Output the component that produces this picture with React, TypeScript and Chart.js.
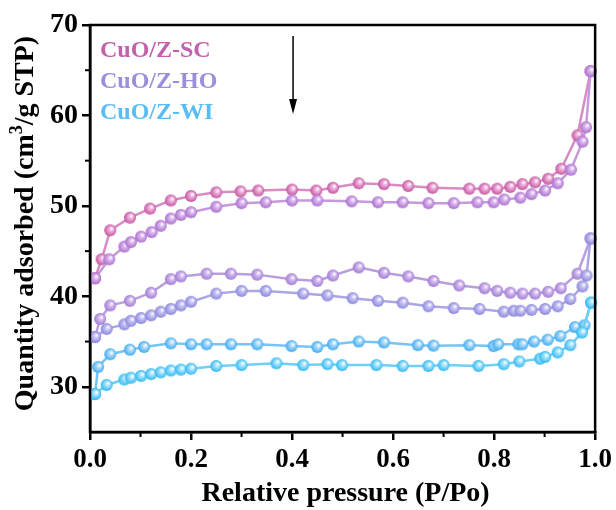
import React, { useEffect, useRef } from "react";
import { Chart, registerables } from "chart.js";

Chart.register(...registerables);

// ---------- data ----------
const scDesX = [0.010, 0.023, 0.040, 0.079, 0.119, 0.160, 0.200, 0.250, 0.298, 0.333, 0.400, 0.448, 0.481, 0.532, 0.582, 0.630, 0.678, 0.751, 0.781, 0.806, 0.832, 0.856, 0.881, 0.907, 0.933, 0.965, 0.991];
const scDesY = [42.0, 44.1, 47.3, 48.7, 49.7, 50.6, 51.1, 51.5, 51.6, 51.7, 51.8, 51.7, 52.0, 52.5, 52.4, 52.2, 52.0, 51.9, 51.9, 51.9, 52.1, 52.4, 52.6, 53.0, 54.1, 57.8, 64.9];

const scAdsX = [0.010, 0.038, 0.068, 0.081, 0.101, 0.122, 0.140, 0.160, 0.180, 0.200, 0.250, 0.300, 0.348, 0.400, 0.450, 0.518, 0.570, 0.619, 0.670, 0.720, 0.767, 0.799, 0.820, 0.852, 0.874, 0.901, 0.926, 0.952, 0.975, 0.982, 0.991];
const scAdsY = [42.0, 44.1, 45.5, 46.0, 46.6, 47.1, 47.8, 48.6, 49.0, 49.3, 49.9, 50.3, 50.4, 50.6, 50.6, 50.5, 50.4, 50.4, 50.3, 50.3, 50.4, 50.4, 50.7, 50.9, 51.3, 51.7, 52.5, 54.0, 57.1, 58.7, 64.9];

const hoDesX = [0.010, 0.020, 0.040, 0.079, 0.121, 0.160, 0.180, 0.231, 0.279, 0.331, 0.399, 0.450, 0.481, 0.532, 0.582, 0.630, 0.680, 0.731, 0.781, 0.806, 0.832, 0.856, 0.881, 0.907, 0.932, 0.965, 0.991];
const hoDesY = [35.5, 37.5, 39.0, 39.5, 40.4, 41.9, 42.2, 42.5, 42.5, 42.4, 41.9, 41.7, 42.3, 43.2, 42.6, 42.2, 41.7, 41.2, 40.9, 40.6, 40.4, 40.3, 40.3, 40.5, 40.9, 42.5, 46.4];

const hoAdsX = [0.010, 0.033, 0.068, 0.081, 0.101, 0.121, 0.140, 0.160, 0.180, 0.200, 0.250, 0.300, 0.348, 0.422, 0.470, 0.520, 0.570, 0.619, 0.670, 0.720, 0.771, 0.819, 0.839, 0.852, 0.874, 0.901, 0.926, 0.951, 0.975, 0.983, 0.991];
const hoAdsY = [35.5, 36.4, 36.9, 37.3, 37.6, 37.9, 38.3, 38.6, 39.0, 39.4, 40.3, 40.6, 40.6, 40.3, 40.1, 39.8, 39.5, 39.3, 38.9, 38.7, 38.6, 38.3, 38.4, 38.4, 38.5, 38.6, 38.9, 39.7, 41.1, 42.3, 46.4];

const wiDesX = [0.010, 0.016, 0.040, 0.079, 0.107, 0.160, 0.200, 0.231, 0.279, 0.331, 0.399, 0.450, 0.481, 0.532, 0.582, 0.649, 0.680, 0.751, 0.799, 0.808, 0.848, 0.856, 0.879, 0.906, 0.931, 0.960, 0.979, 0.992];
const wiDesY = [29.2, 32.2, 33.6, 34.1, 34.4, 34.8, 34.7, 34.7, 34.7, 34.7, 34.5, 34.4, 34.7, 35.0, 34.9, 34.6, 34.55, 34.6, 34.5, 34.7, 34.7, 34.7, 35.0, 35.2, 35.6, 36.6, 36.8, 39.3];

const wiAdsX = [0.010, 0.033, 0.068, 0.081, 0.101, 0.121, 0.140, 0.160, 0.180, 0.200, 0.250, 0.300, 0.369, 0.422, 0.470, 0.499, 0.567, 0.619, 0.670, 0.700, 0.769, 0.819, 0.850, 0.891, 0.901, 0.926, 0.951, 0.974, 0.992];
const wiAdsY = [29.2, 30.2, 30.8, 31.0, 31.2, 31.4, 31.6, 31.8, 31.9, 32.0, 32.3, 32.4, 32.6, 32.4, 32.5, 32.4, 32.4, 32.3, 32.3, 32.4, 32.3, 32.5, 32.8, 33.1, 33.3, 33.8, 34.6, 36.0, 39.3];

const legendLabels = ["CuO/Z-SC", "CuO/Z-HO", "CuO/Z-WI"];
const xTickValues = [0, 0.2, 0.4, 0.6, 0.8, 1.0];
const xMinorValues = [0.1, 0.3, 0.5, 0.7, 0.9];
const yTickValues = [30, 40, 50, 60, 70];
const yMinorValues = [35, 45, 55, 65];
const xTitle = "Relative pressure (P/Po)";

// ---------- styles ----------
const FONT = "'Liberation Serif', 'Times New Roman', serif";
const legendColors = ["#c460ad", "#9b8fdc", "#58bdf5"];

function makeBall(base: string, light: string) {
  const s = 14;
  const c = document.createElement("canvas");
  c.width = s;
  c.height = s;
  const g = c.getContext("2d")!;
  const cx = s / 2, cy = s / 2, r = 6;
  const grad = g.createRadialGradient(cx + 1.7, cy - 1.9, 0.3, cx, cy, r);
  grad.addColorStop(0, "#ffffff");
  grad.addColorStop(0.35, light);
  grad.addColorStop(1, base);
  g.fillStyle = grad;
  g.beginPath();
  g.arc(cx, cy, r, 0, Math.PI * 2);
  g.fill();
  return c;
}

function toPts(xs: number[], ys: number[]) {
  return xs.map((x, i) => ({ x, y: ys[i] }));
}

const overlayPlugin = {
  id: "overlay",
  afterDraw(chart: any) {
    const ctx = chart.ctx as CanvasRenderingContext2D;
    const a = chart.chartArea;
    const xs = chart.scales.x;
    const ys = chart.scales.y;
    ctx.save();
    // frame
    ctx.strokeStyle = "#000";
    ctx.lineWidth = 2.5;
    ctx.strokeRect(a.left, a.top, a.right - a.left, a.bottom - a.top);
    // minor ticks
    ctx.lineWidth = 2;
    xMinorValues.forEach((v) => {
      const px = xs.getPixelForValue(v);
      ctx.beginPath();
      ctx.moveTo(px, a.bottom);
      ctx.lineTo(px, a.bottom + 5);
      ctx.stroke();
    });
    yMinorValues.forEach((v) => {
      const py = ys.getPixelForValue(v);
      ctx.beginPath();
      ctx.moveTo(a.left, py);
      ctx.lineTo(a.left - 5, py);
      ctx.stroke();
    });
    // legend text
    ctx.font = `bold 24px ${FONT}`;
    ctx.textAlign = "left";
    ctx.textBaseline = "middle";
    legendLabels.forEach((t, i) => {
      ctx.fillStyle = legendColors[i];
      ctx.fillText(t, a.left + 10, a.top + 26 + i * 31);
    });
    // arrow
    const ax = xs.getPixelForValue(0.402);
    ctx.strokeStyle = "#000";
    ctx.fillStyle = "#000";
    ctx.lineWidth = 1.5;
    ctx.beginPath();
    ctx.moveTo(ax, a.top + 11);
    ctx.lineTo(ax, a.top + 80);
    ctx.stroke();
    ctx.beginPath();
    ctx.moveTo(ax, a.top + 89);
    ctx.lineTo(ax - 4, a.top + 74);
    ctx.lineTo(ax + 4, a.top + 74);
    ctx.closePath();
    ctx.fill();
    // x title
    ctx.fillStyle = "#000";
    ctx.font = `bold 28px ${FONT}`;
    ctx.textAlign = "center";
    ctx.textBaseline = "alphabetic";
    ctx.fillText(xTitle, (a.left + a.right) / 2 + 3, 501);
    // y title with superscript
    const p1 = "Quantity adsorbed (cm";
    const p2 = "3";
    const p3 = "/g STP)";
    ctx.translate(33, (a.top + a.bottom) / 2 - 5);
    ctx.rotate(-Math.PI / 2);
    const bigF = `bold 28px ${FONT}`;
    const smallF = `bold 18px ${FONT}`;
    ctx.font = bigF;
    const w1 = ctx.measureText(p1).width;
    const w3 = ctx.measureText(p3).width;
    ctx.font = smallF;
    const w2 = ctx.measureText(p2).width;
    const total = w1 + w2 + w3;
    let x0 = -total / 2;
    ctx.textAlign = "left";
    ctx.font = bigF;
    ctx.fillText(p1, x0, 0);
    x0 += w1;
    ctx.font = smallF;
    ctx.fillText(p2, x0, -11);
    x0 += w2;
    ctx.font = bigF;
    ctx.fillText(p3, x0, 0);
    ctx.restore();
  },
};

export default function App() {
  const ref = useRef<HTMLCanvasElement | null>(null);
  useEffect(() => {
    if (!ref.current) return;
    const series = [
      { d: toPts(scAdsX, scAdsY), base: "#a96fcc", light: "#dcb8f0", line: "#c59ada" },
      { d: toPts(scDesX, scDesY), base: "#c2549f", light: "#f0b0dc", line: "#d88cc4" },
      { d: toPts(hoAdsX, hoAdsY), base: "#8b86dc", light: "#c8c4f4", line: "#aaa6e6" },
      { d: toPts(hoDesX, hoDesY), base: "#a07bd2", light: "#d4bcf0", line: "#b99ede" },
      { d: toPts(wiAdsX, wiAdsY), base: "#2fb8f2", light: "#a8e4fc", line: "#6fd0f6" },
      { d: toPts(wiDesX, wiDesY), base: "#3eaaf0", light: "#b0dcfa", line: "#76c4f4" },
    ];
    const chart = new Chart(ref.current, {
      type: "line",
      data: {
        datasets: series.map((s) => ({
          data: s.d,
          borderColor: s.line,
          borderWidth: 2.5,
          pointStyle: makeBall(s.base, s.light) as any,
          pointRadius: 6,
          tension: 0,
          clip: false as any,
        })),
      },
      options: {
        responsive: false,
        animation: false,
        events: [],
        layout: { padding: { left: 0, top: 25, right: 20, bottom: 0 } },
        plugins: { legend: { display: false }, tooltip: { enabled: false } },
        scales: {
          x: {
            type: "linear",
            min: 0,
            max: 1,
            afterBuildTicks: (sc: any) => {
              sc.ticks = xTickValues.map((v) => ({ value: v }));
            },
            afterFit: (sc: any) => {
              sc.height = 78;
            },
            ticks: {
              callback: (v: any) => Number(v).toFixed(1),
              color: "#000",
              font: { family: FONT, size: 27, weight: "bold" },
              padding: 4,
              maxRotation: 0,
            },
            grid: { drawOnChartArea: false, drawTicks: true, tickLength: 8, color: "#000", lineWidth: 2.5 },
            border: { display: true, color: "#000", width: 2.5 },
          },
          y: {
            type: "linear",
            min: 25,
            max: 70,
            afterBuildTicks: (sc: any) => {
              sc.ticks = yTickValues.map((v) => ({ value: v }));
            },
            afterFit: (sc: any) => {
              sc.width = 90;
            },
            ticks: {
              color: "#000",
              font: { family: FONT, size: 28, weight: "bold" },
              padding: 4,
            },
            grid: { drawOnChartArea: false, drawTicks: true, tickLength: 8, color: "#000", lineWidth: 2.5 },
            border: { display: true, color: "#000", width: 2.5 },
          },
        },
      },
      plugins: [overlayPlugin],
    } as any);
    return () => chart.destroy();
  }, []);
  return (
    <div style={{ position: "fixed", left: 0, top: 0, width: 616, height: 510, background: "#fff" }}>
      <canvas ref={ref} width={616} height={510} style={{ display: "block" }} />
    </div>
  );
}
